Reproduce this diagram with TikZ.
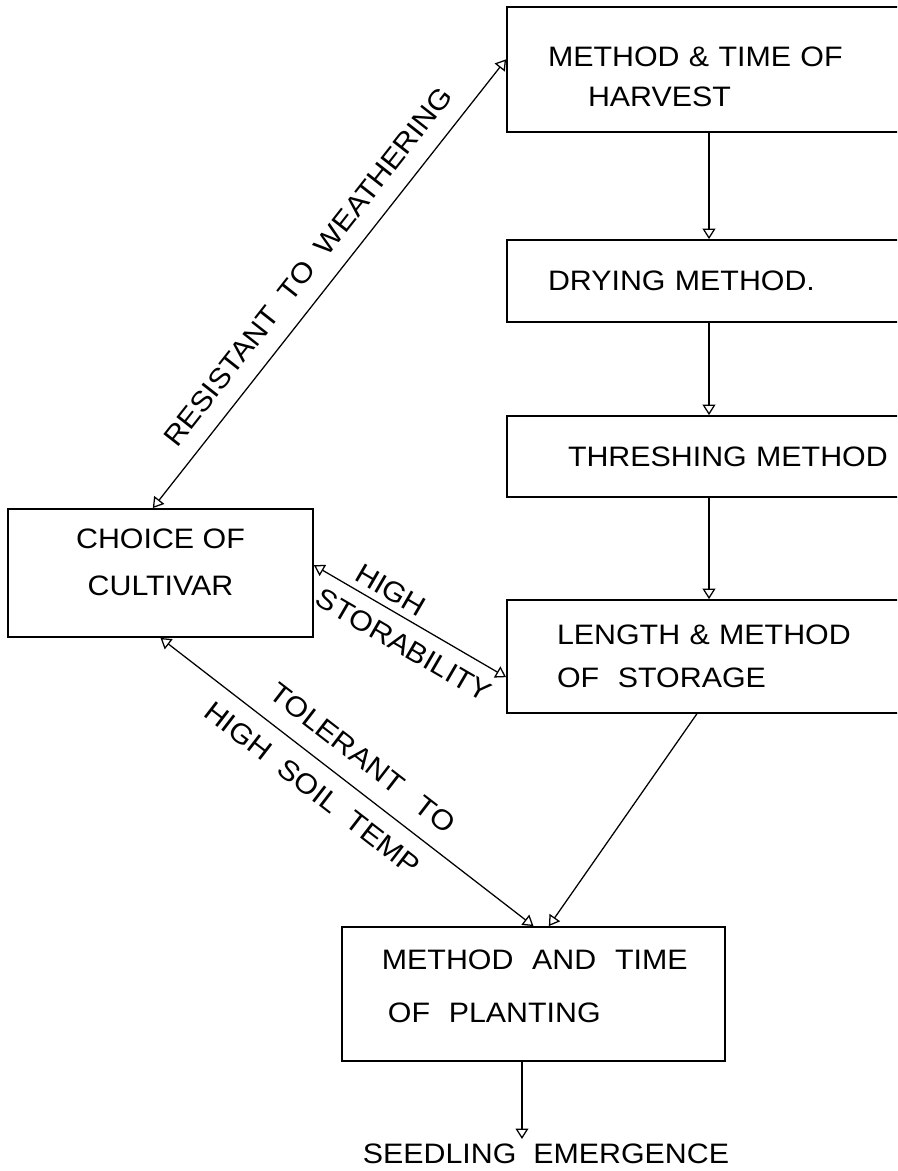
\documentclass[tikz,border=0pt]{standalone}
\usepackage{fontspec}
\setmainfont[FakeStretch=1.08]{Liberation Sans}
\usetikzlibrary{arrows.meta,calc}
\begin{document}
\begin{tikzpicture}[
      x=0.25mm, y=-0.25mm,
      font=\fontsize{20}{28}\selectfont,
      box/.style={draw, line width=1.3pt, inner sep=0pt, align=left},
      flow/.style={-{Triangle[open, length=2.6mm, width=3.2mm]}, line width=0.9pt},
      twoway/.style={{Triangle[open, length=2.6mm, width=3.2mm]}-{Triangle[open, length=2.6mm, width=3.2mm]}, line width=0.9pt},
      lbl/.style={sloped, inner sep=0pt}
    ]
      \useasboundingbox (0,0) rectangle (897,1171);
      \clip (0,0) rectangle (897,1171);

      % right column
      \node[box, minimum width=101mm, minimum height=31.25mm, text width=90mm] (harvest) at (709,69.5) {\mbox{}\\[-1.33mm]\hspace*{4.75mm}METHOD \& TIME OF\\\hspace*{14.75mm}HARVEST};
      \node[box, minimum width=101mm, minimum height=20.5mm, text width=90mm] (drying) at (709,281) {\hspace*{4.75mm}DRYING METHOD.};
      \node[box, minimum width=101mm, minimum height=20.25mm, text width=90mm] (thresh) at (709,456.5) {\hspace*{9.75mm}THRESHING METHOD};
      \node[box, minimum width=101mm, minimum height=28.25mm, text width=90mm] (storage) at (709,656.5) {\hspace*{7mm}LENGTH \& METHOD\\[0.9mm]\hspace*{7mm}OF\ \ STORAGE};

      \node[box, minimum width=76.25mm, minimum height=32mm, align=center] (choice) at (160.5,573) {CHOICE OF\\[1.9mm]CULTIVAR\\[-4.4mm]\mbox{}};
      \node[box, minimum width=95.75mm, minimum height=33.5mm, text width=84mm] (plant) at (533.5,994) {\hspace*{4.1mm}METHOD\ \ AND\ \ TIME\\[3.6mm]\hspace*{5.6mm}OF\ \ PLANTING\\[-5.9mm]\mbox{}};
      \node[inner sep=1.2mm] (seed) at (546,1154) {SEEDLING\ \ EMERGENCE};
      \coordinate (plantout) at ($(plant.south west)!0.47!(plant.south east)$);

      \draw[flow] (harvest) -- (drying);
      \draw[flow] (drying) -- (thresh);
      \draw[flow] (thresh) -- (storage);
      \draw[flow] ($(storage.south west)!0.47!(storage.south east)$) -- ($(plant.north west)!0.54!(plant.north east)$);
      \draw[flow] (plantout) -- (plantout |- seed.north);

      \draw[twoway] ($(choice.north west)!0.475!(choice.north east)$) -- node[lbl, above=4.2mm, pos=0.5] {RESISTANT\ \ TO\ \ WEATHERING} ($(harvest.north west)!0.42!(harvest.south west)$);
      \draw[twoway] ($(choice.north east)!0.44!(choice.south east)$) -- node[lbl, above=1.7mm, pos=0.355] {HIGH} node[lbl, below=3.3mm, pos=0.53] {STORABILITY} ($(storage.north west)!0.68!(storage.south west)$);
      \draw[twoway] (choice.south) -- node[lbl, above=4.5mm, pos=0.495] {TOLERANT\hspace{0.8em}TO} node[lbl, below=3.9mm, pos=0.45] {HIGH\ \ SOIL\ \ TEMP} (plant.north);
    \end{tikzpicture}
\end{document}
